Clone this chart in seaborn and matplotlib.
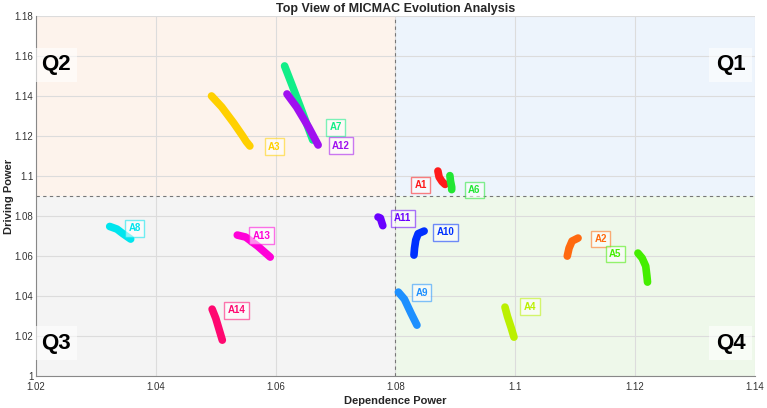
import numpy as np
import matplotlib
matplotlib.use("Agg")
import matplotlib.pyplot as plt
import pandas as pd
import seaborn as sns

# Trajectories of each factor (dependence, driving)
factors = ["A1", "A2", "A3", "A4", "A5", "A6", "A7",
           "A8", "A9", "A10", "A11", "A12", "A13", "A14"]

dep_A1 = [1.0871, 1.0873, 1.0878, 1.0883]
drv_A1 = [1.1025, 1.0995, 1.0972, 1.0958]
dep_A2 = [1.1105, 1.1095, 1.1090, 1.1087]
drv_A2 = [1.0690, 1.0675, 1.0640, 1.0600]
dep_A3 = [1.0493, 1.0510, 1.0530, 1.0545, 1.0551, 1.0557]
drv_A3 = [1.1400, 1.1345, 1.1265, 1.1200, 1.1172, 1.1150]
dep_A4 = [1.0983, 1.0987, 1.0993, 1.0998]
drv_A4 = [1.0345, 1.0300, 1.0245, 1.0195]
dep_A5 = [1.1205, 1.1212, 1.1218, 1.1220, 1.1221]
drv_A5 = [1.0615, 1.0590, 1.0550, 1.0500, 1.0470]
dep_A6 = [1.0891, 1.0892, 1.0894, 1.0894]
drv_A6 = [1.1002, 1.0975, 1.0945, 1.0932]
dep_A7 = [1.0615, 1.0628, 1.0642, 1.0662]
drv_A7 = [1.1550, 1.1450, 1.1340, 1.1180]
dep_A8 = [1.0323, 1.0335, 1.0345, 1.0358]
drv_A8 = [1.0748, 1.0735, 1.0712, 1.0685]
dep_A9 = [1.0805, 1.0815, 1.0826, 1.0836]
drv_A9 = [1.0420, 1.0385, 1.0315, 1.0255]
dep_A10 = [1.0848, 1.0838, 1.0834, 1.0832, 1.0831]
drv_A10 = [1.0725, 1.0712, 1.0680, 1.0640, 1.0605]
dep_A11 = [1.0771, 1.0775, 1.0777, 1.0779]
drv_A11 = [1.0795, 1.0790, 1.0770, 1.0752]
dep_A12 = [1.0619, 1.0635, 1.0655, 1.0671]
drv_A12 = [1.1410, 1.1345, 1.1245, 1.1155]
dep_A13 = [1.0536, 1.0550, 1.0570, 1.0591]
drv_A13 = [1.0705, 1.0695, 1.0650, 1.0595]
dep_A14 = [1.0494, 1.0500, 1.0505, 1.0511]
drv_A14 = [1.0335, 1.0290, 1.0240, 1.0180]

# label anchor positions
label_x = [1.0842, 1.1143, 1.0598, 1.1025, 1.1167, 1.0932, 1.0700,
           1.0365, 1.0844, 1.0884, 1.0812, 1.0709, 1.0576, 1.0535]
label_y = [1.0955, 1.0685, 1.1147, 1.0347, 1.0610, 1.0930, 1.1243,
           1.0738, 1.0418, 1.0718, 1.0788, 1.1152, 1.0702, 1.0330]

colors = ["#ff1a1a", "#ff6a10", "#ffd000", "#bbf000", "#44ee00", "#22e633",
          "#11ee88", "#00e5ee", "#1e90ff", "#0030ff", "#6a00ff", "#a010f0",
          "#ff00d8", "#ff0870"]

dep_threshold = 1.08
drv_threshold = 1.09

trajectories = {
    "A1": (dep_A1, drv_A1), "A2": (dep_A2, drv_A2), "A3": (dep_A3, drv_A3),
    "A4": (dep_A4, drv_A4), "A5": (dep_A5, drv_A5), "A6": (dep_A6, drv_A6),
    "A7": (dep_A7, drv_A7), "A8": (dep_A8, drv_A8), "A9": (dep_A9, drv_A9),
    "A10": (dep_A10, drv_A10), "A11": (dep_A11, drv_A11),
    "A12": (dep_A12, drv_A12), "A13": (dep_A13, drv_A13),
    "A14": (dep_A14, drv_A14),
}

rows = []
for name in factors:
    xs, ys = trajectories[name]
    for step, (x, y) in enumerate(zip(xs, ys)):
        rows.append({"factor": name, "step": step, "dep": x, "drv": y})
df = pd.DataFrame(rows)

sns.set_style("white")
plt.rcParams["font.family"] = ["Liberation Sans", "DejaVu Sans"]

fig = plt.figure(figsize=(7.67, 4.08), dpi=100)
ax = fig.add_axes([0.047, 0.078, 0.937, 0.883])

xmin, xmax, ymin, ymax = 1.02, 1.14, 1.0, 1.18
# quadrant shading
ax.fill_between([dep_threshold, xmax], drv_threshold, ymax, color="#edf4fc", zorder=0, lw=0)
ax.fill_between([xmin, dep_threshold], drv_threshold, ymax, color="#fdf3ec", zorder=0, lw=0)
ax.fill_between([xmin, dep_threshold], ymin, drv_threshold, color="#f4f4f4", zorder=0, lw=0)
ax.fill_between([dep_threshold, xmax], ymin, drv_threshold, color="#eef8ea", zorder=0, lw=0)

ax.grid(True, color="#dcdcdc", lw=0.8, zorder=0.5)
ax.set_axisbelow(True)

sns.lineplot(data=df, x="dep", y="drv", hue="factor", units="factor",
             estimator=None, sort=False, palette=colors, hue_order=factors,
             linewidth=5.5, solid_capstyle="round", legend=False, ax=ax,
             zorder=3)

ax.axvline(dep_threshold, color="#777777", ls=(0, (3, 3)), lw=0.8, zorder=2)
ax.axhline(drv_threshold, color="#777777", ls=(0, (3, 3)), lw=0.8, zorder=2)

for name, lx, ly, c in zip(factors, label_x, label_y, colors):
    ax.text(lx, ly, name, color=c, fontsize=7, fontweight="bold",
            ha="center", va="center", zorder=5,
            bbox=dict(boxstyle="square,pad=0.35", fc="white", ec=c,
                      alpha=0.55, lw=1.0))

quad_labels = ["Q1", "Q2", "Q3", "Q4"]
quad_x = [1.136, 1.0233, 1.0233, 1.136]
quad_y = [1.1555, 1.1555, 1.0165, 1.0165]
for q, qx, qy in zip(quad_labels, quad_x, quad_y):
    ax.text(qx, qy, q, fontsize=16, fontweight="bold", color="black",
            ha="center", va="center", zorder=5,
            bbox=dict(boxstyle="square,pad=0.3", fc="white", ec="none", alpha=0.6))

ax.set_xlim(xmin, xmax)
ax.set_ylim(ymin, ymax)
ax.set_xticks([1.02, 1.04, 1.06, 1.08, 1.1, 1.12, 1.14])
ax.set_xticklabels(["1.02", "1.04", "1.06", "1.08", "1.1", "1.12", "1.14"])
ax.set_yticks([1, 1.02, 1.04, 1.06, 1.08, 1.1, 1.12, 1.14, 1.16, 1.18])
ax.set_yticklabels(["1", "1.02", "1.04", "1.06", "1.08", "1.1", "1.12",
                    "1.14", "1.16", "1.18"])
ax.tick_params(direction="in", length=4, width=0.8, colors="#555555",
               labelsize=7, labelcolor="#333333", pad=2)
ax.tick_params(axis="x", pad=4)

for side in ["top", "right"]:
    ax.spines[side].set_visible(False)
for side in ["left", "bottom"]:
    ax.spines[side].set_color("#888888")
    ax.spines[side].set_linewidth(0.8)

ax.set_xlabel("Dependence Power", fontsize=8, fontweight="bold", labelpad=3)
ax.set_ylabel("Driving Power", fontsize=8, fontweight="bold")
ax.yaxis.set_label_coords(-0.031, 0.5)
ax.set_title("Top View of MICMAC Evolution Analysis", fontsize=9,
             fontweight="bold", pad=3)

fig.savefig("out.png", dpi=100)
